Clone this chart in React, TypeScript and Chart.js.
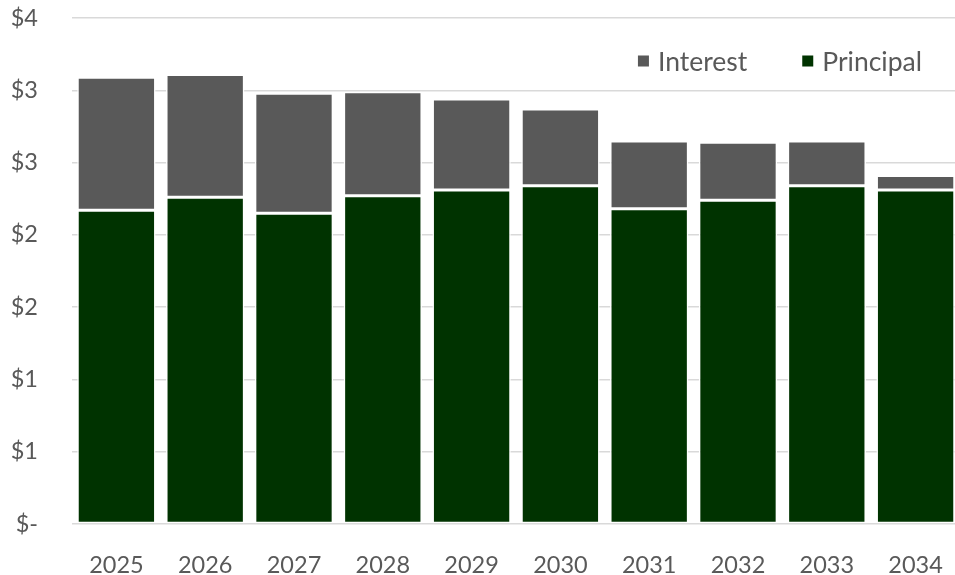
import { useEffect, useRef } from 'react';
import { Chart, registerables } from 'chart.js';

Chart.register(...registerables);

// Annual debt service, $ millions
const years = ['2025', '2026', '2027', '2028', '2029', '2030', '2031', '2032', '2033', '2034'];
const principal = [2.17, 2.26, 2.15, 2.27, 2.31, 2.34, 2.18, 2.24, 2.34, 2.31];
const interest = [0.92, 0.85, 0.83, 0.72, 0.63, 0.53, 0.47, 0.4, 0.31, 0.1];
const yTickLabels = ['$-', '$1', '$1', '$2', '$2', '$3', '$3', '$4'];

const INTEREST_COLOR = '#595959';
const PRINCIPAL_COLOR = '#003300';
const TEXT_COLOR = '#595959';
const GRID_COLOR = '#d9d9d9';
const FONT_FAMILY = 'Lato, "Open Sans", sans-serif';
const FONT_SIZE = 23.5;
const LEGEND_FONT_SIZE = 26.5;

// Legend drawn inside the plot area, top right, Interest before Principal
const insideLegend = {
  id: 'insideLegend',
  afterDraw(chart: any) {
    const { ctx, chartArea } = chart;
    const box = 11;
    const boxGap = 9;
    const itemGap = 55;
    const cy = chartArea.top + 44;
    let x = chartArea.right - 38;
    ctx.save();
    ctx.font = `${LEGEND_FONT_SIZE}px ${FONT_FAMILY}`;
    ctx.textBaseline = 'middle';
    ctx.textAlign = 'left';
    for (const ds of chart.data.datasets) {
      const w = ctx.measureText(ds.label).width;
      const textX = x - w;
      ctx.fillStyle = TEXT_COLOR;
      ctx.fillText(ds.label, textX, cy);
      const boxX = textX - boxGap - box;
      ctx.fillStyle = ds.backgroundColor;
      ctx.fillRect(boxX, cy - box / 2 - 1, box, box);
      x = boxX - itemGap;
    }
    ctx.restore();
  },
};

export default function App() {
  const canvasRef = useRef<HTMLCanvasElement | null>(null);

  useEffect(() => {
    const canvas = canvasRef.current;
    if (!canvas) return;
    const chart = new Chart(canvas, {
      type: 'bar',
      data: {
        labels: years,
        datasets: [
          {
            label: 'Principal',
            data: principal,
            backgroundColor: PRINCIPAL_COLOR,
            borderColor: '#ffffff',
            borderWidth: 1.5,
            borderSkipped: false,
          },
          {
            label: 'Interest',
            data: interest,
            backgroundColor: INTEREST_COLOR,
            borderColor: '#ffffff',
            borderWidth: 1.5,
            borderSkipped: false,
          },
        ],
      },
      options: {
        responsive: false,
        animation: false,
        layout: { padding: { top: 18, right: 2, left: 0, bottom: 0 } },
        datasets: {
          bar: { categoryPercentage: 1, barPercentage: 0.882 },
        },
        plugins: {
          legend: { display: false },
          tooltip: { enabled: false },
        },
        scales: {
          x: {
            stacked: true,
            grid: { display: false, drawTicks: false },
            border: { display: false },
            ticks: {
              color: TEXT_COLOR,
              font: { family: FONT_FAMILY, size: FONT_SIZE },
              padding: 27,
              maxRotation: 0,
            },
            afterFit(scale: any) {
              scale.height = 51;
              scale.paddingLeft = 0;
              scale.paddingRight = 0;
            },
          },
          y: {
            stacked: true,
            min: 0,
            max: 3.5,
            grid: { color: GRID_COLOR, lineWidth: 1.5, drawTicks: false },
            border: { display: false },
            ticks: {
              stepSize: 0.5,
              color: TEXT_COLOR,
              font: { family: FONT_FAMILY, size: FONT_SIZE },
              padding: 34,
              callback: (_v: any, i: number) => yTickLabels[i],
            },
            afterFit(scale: any) {
              scale.width = 72;
              scale.paddingTop = 0;
              scale.paddingBottom = 0;
            },
          },
        },
      },
      plugins: [insideLegend],
    });
    return () => chart.destroy();
  }, []);

  return (
    <div
      style={{
        position: 'fixed',
        left: 0,
        top: 0,
        width: 955,
        height: 575,
        overflow: 'hidden',
        background: '#ffffff',
      }}
    >
      <canvas ref={canvasRef} width={962} height={575} style={{ display: 'block' }} />
    </div>
  );
}
